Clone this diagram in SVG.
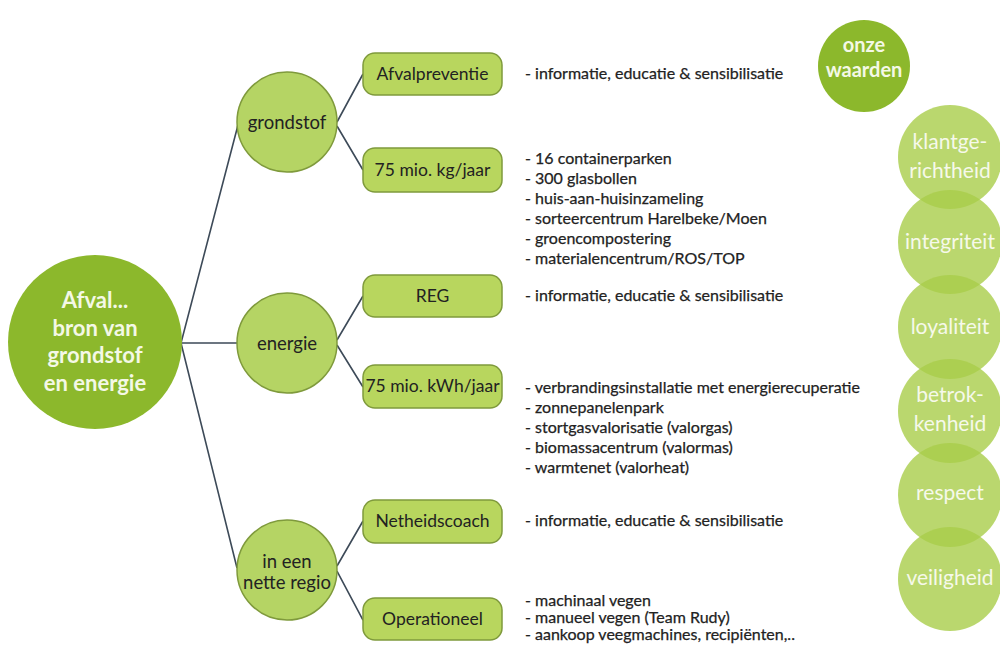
<svg xmlns="http://www.w3.org/2000/svg" width="1000" height="655" viewBox="0 0 1000 655">
<style>
.main{fill:#8cb82c}
.sub{fill:#b5d464;stroke:#7f9a3c;stroke-width:1.5}
.box{fill:#b8d65e;stroke:#7f9a3c;stroke-width:1.5}
.val{fill:#a9cd4a;fill-opacity:0.8}
.conn{stroke:#3d4a58;stroke-width:1.6;fill:none}
.wt{font-family:Lato,"Open Sans",sans-serif;font-weight:bold;fill:#f4f8e6;text-anchor:middle}
.nt{font-family:Lato,"Open Sans",sans-serif;fill:#222;text-anchor:middle;font-size:17.5px}
.cn{font-size:18.5px}
.lt{font-family:Lato,"Open Sans",sans-serif;fill:#222;stroke:#222;stroke-width:0.25;font-size:16px}
.vt{font-family:Lato,"Open Sans",sans-serif;fill:#f6f9ea;text-anchor:middle;font-size:21px}
</style>
<rect width="1000" height="655" fill="#ffffff"/>
<g id="connectors">
<path class="conn" d="M181,343 L238,125 M181,343 L237,343 M181,343 L237,568"/>
<path class="conn" d="M337,122 L363,74 M337,126 L363,170"/>
<path class="conn" d="M337,340 L363,296 M337,345 L363,387"/>
<path class="conn" d="M337,566 L363,521 M337,571 L363,620"/>
</g>
<g id="root">
<circle class="main" cx="95" cy="342" r="87"/>
<text class="wt" font-size="22" x="95" y="308">Afval...</text>
<text class="wt" font-size="22" x="95" y="335.5">bron van</text>
<text class="wt" font-size="22" x="95" y="363">grondstof</text>
<text class="wt" font-size="22" x="95" y="390.5">en energie</text>
</g>
<g id="grondstof">
<circle class="sub" cx="287" cy="122" r="50"/>
<text class="nt cn" x="287" y="129">grondstof</text>
</g>
<g id="energie">
<circle class="sub" cx="287" cy="343" r="50"/>
<text class="nt cn" x="287" y="350">energie</text>
</g>
<g id="regio">
<circle class="sub" cx="287" cy="570" r="50"/>
<text class="nt cn" x="287" y="568">in een</text>
<text class="nt cn" x="287" y="589">nette regio</text>
</g>
<g id="afvalpreventie">
<rect class="box" x="363" y="53" width="139" height="42" rx="12"/>
<text class="nt" x="432.5" y="80">Afvalpreventie</text>
<text class="lt" x="525" y="79">- informatie, educatie &amp; sensibilisatie</text>
</g>
<g id="kg">
<rect class="box" x="363" y="148" width="139" height="44" rx="12"/>
<text class="nt" x="432.5" y="176">75 mio. kg/jaar</text>
<text class="lt" x="525" y="164">- 16 containerparken</text>
<text class="lt" x="525" y="184">- 300 glasbollen</text>
<text class="lt" x="525" y="204">- huis-aan-huisinzameling</text>
<text class="lt" x="525" y="224">- sorteercentrum Harelbeke/Moen</text>
<text class="lt" x="525" y="244">- groencompostering</text>
<text class="lt" x="525" y="264">- materialencentrum/ROS/TOP</text>
</g>
<g id="reg">
<rect class="box" x="363" y="275" width="139" height="42" rx="12"/>
<text class="nt" x="432.5" y="302">REG</text>
<text class="lt" x="525" y="301">- informatie, educatie &amp; sensibilisatie</text>
</g>
<g id="kwh">
<rect class="box" x="363" y="365" width="139" height="43" rx="12"/>
<text class="nt" x="432.5" y="392">75 mio. kWh/jaar</text>
<text class="lt" x="525" y="393">- verbrandingsinstallatie met energierecuperatie</text>
<text class="lt" x="525" y="413">- zonnepanelenpark</text>
<text class="lt" x="525" y="433">- stortgasvalorisatie (valorgas)</text>
<text class="lt" x="525" y="453">- biomassacentrum (valormas)</text>
<text class="lt" x="525" y="473">- warmtenet (valorheat)</text>
</g>
<g id="netheidscoach">
<rect class="box" x="363" y="500" width="139" height="43" rx="12"/>
<text class="nt" x="432.5" y="527">Netheidscoach</text>
<text class="lt" x="525" y="526">- informatie, educatie &amp; sensibilisatie</text>
</g>
<g id="operationeel">
<rect class="box" x="363" y="598" width="139" height="42" rx="12"/>
<text class="nt" x="432.5" y="625">Operationeel</text>
<text class="lt" x="525" y="606">- machinaal vegen</text>
<text class="lt" x="525" y="623">- manueel vegen (Team Rudy)</text>
<text class="lt" x="525" y="640">- aankoop veegmachines, recipiënten,..</text>
</g>
<g id="onze-waarden">
<circle class="main" cx="864" cy="66" r="46"/>
<text class="wt" font-size="20" x="864" y="52">onze</text>
<text class="wt" font-size="20" x="864" y="77">waarden</text>
</g>
<g id="klantgerichtheid">
<circle class="val" cx="950" cy="157" r="52"/>
<text class="vt" x="950" y="149">klantge-</text>
<text class="vt" x="950" y="178">richtheid</text>
</g>
<g id="integriteit">
<circle class="val" cx="950" cy="242" r="52"/>
<text class="vt" x="950" y="249">integriteit</text>
</g>
<g id="loyaliteit">
<circle class="val" cx="950" cy="327" r="52"/>
<text class="vt" x="950" y="334">loyaliteit</text>
</g>
<g id="betrokkenheid">
<circle class="val" cx="950" cy="411" r="52"/>
<text class="vt" x="950" y="402">betrok-</text>
<text class="vt" x="950" y="431">kenheid</text>
</g>
<g id="respect">
<circle class="val" cx="950" cy="495" r="52"/>
<text class="vt" x="950" y="500">respect</text>
</g>
<g id="veiligheid">
<circle class="val" cx="950" cy="579" r="52"/>
<text class="vt" x="950" y="585">veiligheid</text>
</g>
</svg>
